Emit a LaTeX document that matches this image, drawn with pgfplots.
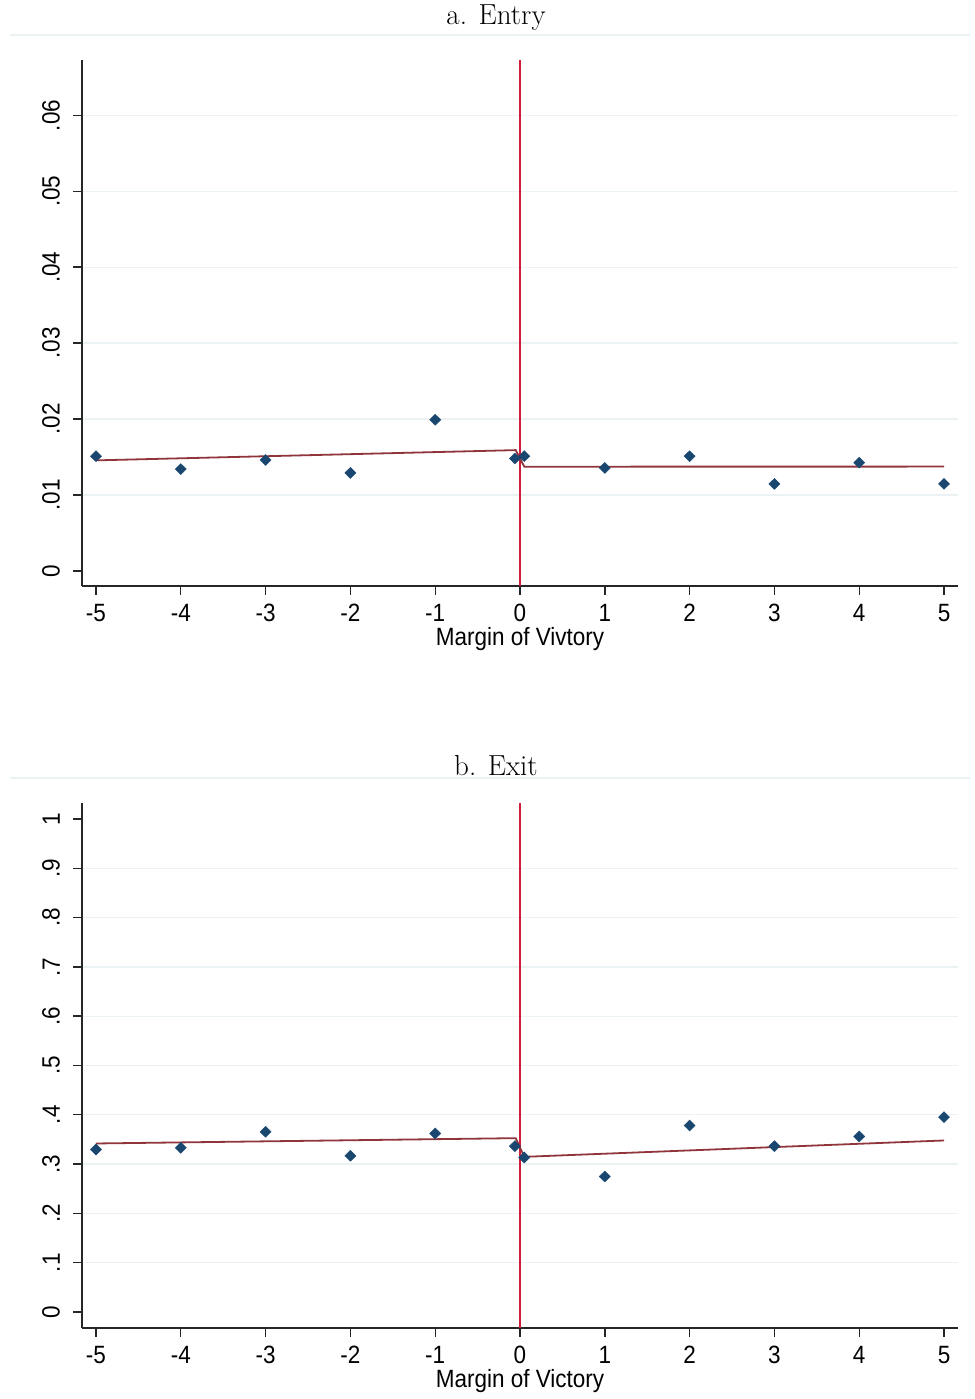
\documentclass[border=0pt]{standalone}
\usepackage{fontspec}
\usepackage{pgfplots}
\pgfplotsset{compat=1.18}
\newfontfamily\arial[FakeStretch=0.9]{Liberation Sans}
\definecolor{stnavy}{HTML}{1A476F}
\definecolor{stmaroon}{HTML}{90353B}
\definecolor{vline}{RGB}{205,30,62}
\definecolor{gridc}{HTML}{EAF2F3}
\pgfplotsset{
  stata/.style={
    scale only axis,
    width=876pt,
    xmin=-5.165, xmax=5.165,
    axis x line*=bottom, axis y line*=left,
    axis line style={-, line width=1.4pt, black!85},
    tick align=outside,
    major tick length=9pt,
    tick style={line width=1.4pt, black!85},
    xtick={-5,-4,...,5},
    scaled y ticks=false,
    /pgf/number format/assume math mode=true,
    ticklabel style={font=\arial\fontsize{25}{25}\selectfont, inner sep=0pt},
    xticklabel shift=9pt,
    yticklabel style={rotate=90, anchor=south},
    yticklabel shift=13pt,
    ymajorgrids,
    major grid style={gridc, line width=1.3pt},
    extra tick style={grid=none},
    xlabel style={font=\arial\fontsize{25}{25}\selectfont, inner sep=0pt,
      at={(axis description cs:0.5,0)}, anchor=north, yshift=-41pt},
    clip=false,
  },
  scat/.style={only marks, mark=diamond*, mark size=5.5pt, color=stnavy, mark options={xscale=1.35}},
  fit/.style={stmaroon, line width=1.8pt, mark=none},
  vl/.style={vline, line width=1.4pt, mark=none},
}
\begin{document}
\begin{tikzpicture}[x=1pt,y=1pt]
\useasboundingbox (0,0) rectangle (974,1399);
% titles
\node[font=\fontsize{29}{29}\selectfont] at (496,1381) {a. Entry};
\draw[gridc, line width=1.5pt] (10,1364) -- (970,1364);
\node[font=\fontsize{29}{29}\selectfont] at (496,633) {b. Exit};
\draw[gridc, line width=1.5pt] (10,621) -- (970,621);

% top panel
\begin{axis}[stata,
  at={(82pt,813pt)}, anchor=south west,
  height=526pt,
  ymin=-0.002, ymax=0.0673,
  ytick={0.01,0.02,0.03,0.04,0.05,0.06},
  yticklabels={.01,.02,.03,.04,.05,.06},
  extra y ticks={0}, extra y tick labels={0},
  xlabel={Margin of Vivtory},
]
\addplot[vl] coordinates {(0,-0.002) (0,0.0673)};
\addplot[fit] coordinates {(-5,0.01455) (-0.05,0.0159) (0.05,0.01372) (5,0.01373)};
\addplot[scat] coordinates {
(-5,0.0151) (-4,0.0134) (-3,0.0146) (-2,0.0129) (-1,0.0199) (-0.06,0.0148)
(0.05,0.0151) (1,0.01355) (2,0.0151) (3,0.01145) (4,0.01425) (5,0.01145)};
\end{axis}

% bottom panel
\begin{axis}[stata,
  at={(82pt,71pt)}, anchor=south west,
  height=525pt,
  ymin=-0.0325, ymax=1.0325,
  ytick={0.1,0.2,0.3,0.4,0.5,0.6,0.7,0.8,0.9},
  yticklabels={.1,.2,.3,.4,.5,.6,.7,.8,.9},
  extra y ticks={0,1}, extra y tick labels={0,1},
  xlabel={Margin of Victory},
]
\addplot[vl] coordinates {(0,-0.0325) (0,1.0325)};
\addplot[fit] coordinates {(-5,0.3418) (-0.05,0.3526) (0.05,0.3147) (5,0.3479)};
\addplot[scat] coordinates {
(-5,0.3296) (-4,0.333) (-3,0.3655) (-2,0.3168) (-1,0.3621) (-0.06,0.3364)
(0.05,0.3134) (1,0.2748) (2,0.3783) (3,0.3364) (4,0.356) (5,0.3953)};
\end{axis}
\end{tikzpicture}
\end{document}
